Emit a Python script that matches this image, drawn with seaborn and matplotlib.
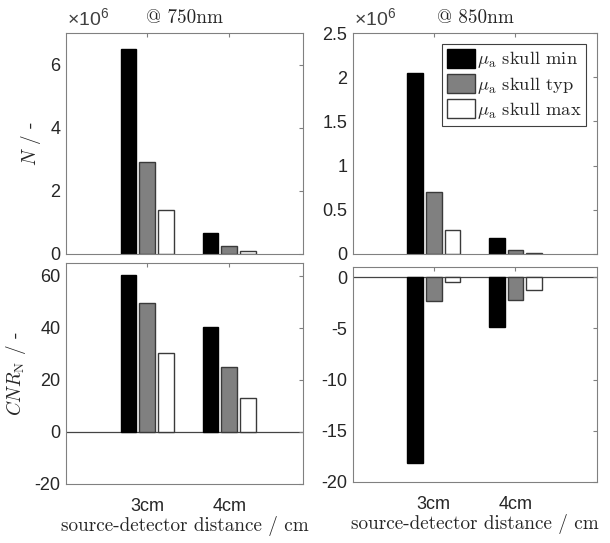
import numpy as np
import pandas as pd
import matplotlib
matplotlib.use("Agg")
import matplotlib.pyplot as plt
import seaborn as sns
from matplotlib.ticker import FuncFormatter, FixedLocator
from matplotlib.patches import Patch

sns.set_style("white")
plt.rcParams['font.family'] = ['Liberation Sans', 'DejaVu Sans']
plt.rcParams['axes.unicode_minus'] = False
plt.rcParams['mathtext.fontset'] = 'cm'
plt.rcParams['mathtext.rm'] = 'Liberation Sans'

# ---- data ----
distances = ["3cm", "4cm"]
scenarios = [r"$\mu_{\mathrm{a}}$ skull min", r"$\mu_{\mathrm{a}}$ skull typ", r"$\mu_{\mathrm{a}}$ skull max"]
N_750 = [[6.5e6, 2.9e6, 1.38e6], [0.68e6, 0.25e6, 0.10e6]]
N_850 = [[2.05e6, 0.70e6, 0.27e6], [0.18e6, 0.05e6, 0.01e6]]
CNR_750 = [[60.5, 49.5, 30.5], [40.2, 25.0, 13.0]]
CNR_850 = [[-18.1, -2.3, -0.5], [-4.9, -2.2, -1.2]]
titles = ["@ 750nm", "@ 850nm"]

colors = ["#000000", "#808080", "#ffffff"]
edges = ["#000000", "#3a3a3a", "#3a3a3a"]
SERIF = "cmr10"
FS = 13
SFS = 13.8
TXT = "#262626"

def frame(vals):
    rows = []
    for d, row in zip(distances, vals):
        for s, v in zip(scenarios, row):
            rows.append({"distance": d, "scenario": s, "value": v})
    return pd.DataFrame(rows)

fig = plt.figure(figsize=(6.10, 5.43), dpi=100)
W, H = 610.0, 543.0
def pos(l, t, r, b):
    return [l / W, 1 - b / H, (r - l) / W, (b - t) / H]

ax_tl = fig.add_axes(pos(66, 33, 303, 254))
ax_tr = fig.add_axes(pos(353, 33, 597, 254))
ax_bl = fig.add_axes(pos(66, 263, 303, 484))
ax_br = fig.add_axes(pos(353, 267, 597, 482))

specs = [
    (ax_tl, N_750, (0, 7e6), [0, 2e6, 4e6, 6e6], True, (-0.99, 1.90)),
    (ax_tr, N_850, (0, 2.5e6), [0, 0.5e6, 1e6, 1.5e6, 2e6, 2.5e6], True, (-0.99, 2.0)),
    (ax_bl, CNR_750, (-20, 65), [-20, 0, 20, 40, 60], False, (-0.99, 1.90)),
    (ax_br, CNR_850, (-20, 1), [-20, -15, -10, -5, 0], False, (-0.99, 2.0)),
]

for ax, vals, ylim, yt, sci, xl in specs:
    df = frame(vals)
    sns.barplot(data=df, x="distance", y="value", hue="scenario",
                hue_order=scenarios, order=distances, palette=colors,
                width=0.684, gap=0.167, errorbar=None, legend=False,
                linewidth=1.0, ax=ax)
    for cont, ec in zip(ax.containers, edges):
        for p in cont:
            p.set_edgecolor(ec)
    ax.set_xlim(*xl)
    ax.set_ylim(*ylim)
    ax.yaxis.set_major_locator(FixedLocator(yt))
    if sci:
        ax.yaxis.set_major_formatter(FuncFormatter(lambda v, p: f"{v/1e6:g}"))
        ax.text(0.005, 1.012, r"$\times10^{6}$", transform=ax.transAxes,
                ha="left", va="bottom", fontsize=14, color="#404040",
                math_fontfamily="custom")
    else:
        ax.yaxis.set_major_formatter(FuncFormatter(lambda v, p: f"{v:g}"))
        ax.axhline(0, color="#444444", lw=0.9, zorder=0.5)
    ax.set_xticks([0, 1])
    if sci:
        ax.set_xticklabels([])
    else:
        ax.set_xticklabels(distances)
    ax.tick_params(axis="both", which="both", direction="in", length=3,
                   color="#808080", labelsize=FS, labelcolor=TXT,
                   top=True, right=True, pad=4)
    ax.tick_params(axis="x", pad=10)
    for sp in ax.spines.values():
        sp.set_color("#808080")
        sp.set_linewidth(0.8)
    ax.set_xlabel("")
    ax.set_ylabel("")

ax_tl.set_title(titles[0], family=SERIF, fontsize=SFS, color=TXT, pad=7)
ax_tr.set_title(titles[1], family=SERIF, fontsize=SFS, color=TXT, pad=7)
ax_tl.set_ylabel(r"$N$ / -", family=SERIF, fontsize=SFS, color=TXT)
ax_tl.yaxis.set_label_coords(-0.095, 0.5)
ax_bl.set_ylabel(r"$CNR_{\mathrm{N}}$ / -", family=SERIF, fontsize=SFS, color=TXT)
ax_bl.yaxis.set_label_coords(-0.16, 0.5)
for ax in (ax_bl, ax_br):
    ax.set_xlabel("source-detector distance / cm", family=SERIF, fontsize=SFS,
                  color=TXT, labelpad=1)

handles = [Patch(facecolor=c, edgecolor=e, linewidth=1.0) for c, e in zip(colors, edges)]
leg = ax_tr.legend(handles, scenarios, loc="upper right", prop={"family": SERIF, "size": 13.3},
                   handlelength=1.5, handleheight=1.2, handletextpad=0.1,
                   borderpad=0.25, labelspacing=0.2, fancybox=False,
                   edgecolor="#404040", framealpha=1, borderaxespad=0.6)
leg.get_frame().set_linewidth(0.8)

fig.savefig("out.png", dpi=100)
